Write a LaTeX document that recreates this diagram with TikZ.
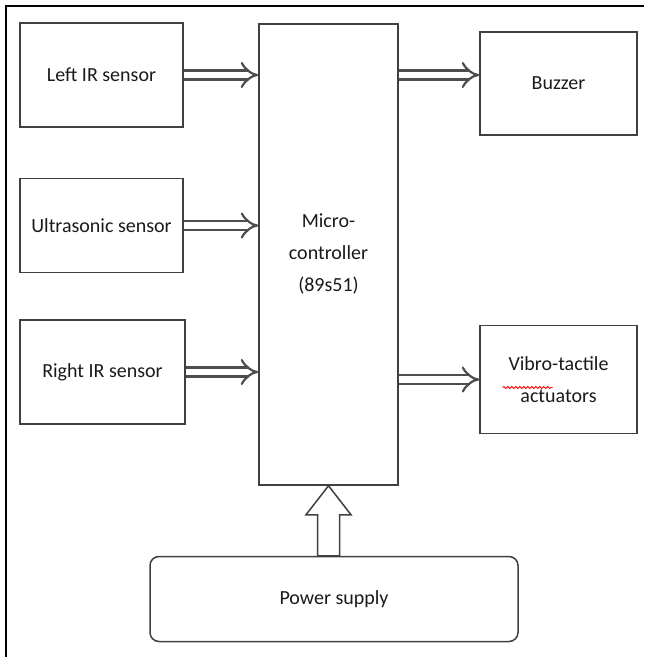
\documentclass[tikz,border=0pt]{standalone}
\usepackage{fontspec}
\setmainfont{Carlito}
\usetikzlibrary{arrows.meta,positioning,calc,decorations.pathmorphing}
\definecolor{BoxLine}{HTML}{404040}
\definecolor{TextGray}{HTML}{1A1A1A}
\definecolor{ArrowGray}{HTML}{4D4D4D}
\tikzset{
  blok/.style     = {draw=BoxLine, line width=0.75pt, align=center, text=TextGray,
                     font=\fontsize{10}{16}\selectfont, inner sep=2pt},
  supply/.style   = {blok, rounded corners=4.5pt},
  sigarrow/.style = {draw=ArrowGray, double, double distance=3.4pt, line width=1.1pt, -{Implies}},
  pwrarrow/.style = {draw=BoxLine, line width=0.75pt, fill=white, line join=miter},
  frame/.style    = {line width=1.3pt},
  spellmark/.style = {red, line width=0.4pt, decorate,
                     decoration={snake, amplitude=0.5pt, segment length=2pt}},
}

\begin{document}
\begin{tikzpicture}[x=0.5pt, y=-0.5pt]
  \useasboundingbox (0,0) rectangle (644,657);
  \draw[frame] (6,657) -- (6,6) -- (644,6);
  % inputs
  \node[blok, minimum width=81.5pt, minimum height=52pt] (leftir) at (101.5,75) {Left IR sensor};
  \node[blok, minimum width=81.5pt, minimum height=47pt, below=25pt of leftir] (ultra) {Ultrasonic sensor};
  \node[blok, minimum width=82.5pt, minimum height=52pt, below=23pt of ultra, xshift=0.5pt] (rightir) {Right IR sensor};
  % controller
  \node[blok, minimum width=69.5pt, minimum height=230.5pt] (micro) at (328.5,254.5) {Micro-\\controller\\(89s51)};
  % outputs
  \node[blok, minimum width=78.5pt, minimum height=51.5pt] (buzzer) at (558.5,83.5) {Buzzer};
  \node[blok, minimum width=78.5pt, minimum height=54pt, below=94.5pt of buzzer] (vibro) {Vibro-tactile\\actuators};
  \draw[spellmark] ($(vibro.center)+(-56,8)$) -- ++(50,0);
  \node[supply, minimum width=184pt, minimum height=42.5pt, below=35pt of micro, xshift=2.75pt] (power) {Power supply};
  % connections
  \draw[sigarrow] (leftir.east) -- (leftir.east -| micro.west);
  \draw[sigarrow] (ultra.east) -- (ultra.east -| micro.west);
  \draw[sigarrow] (rightir.east) -- (rightir.east -| micro.west);
  \draw[sigarrow] (micro.east |- leftir.east) -- (buzzer.west |- leftir.east);
  \draw[sigarrow] (micro.east |- vibro.west) -- (vibro.west);
  \draw[pwrarrow] (micro.south) -- ++(-22.5,29) -- ++(11.5,0) -- ++(0,41)
    -- ++(22,0) -- ++(0,-41) -- ++(11.5,0) -- cycle;
\end{tikzpicture}
\end{document}
